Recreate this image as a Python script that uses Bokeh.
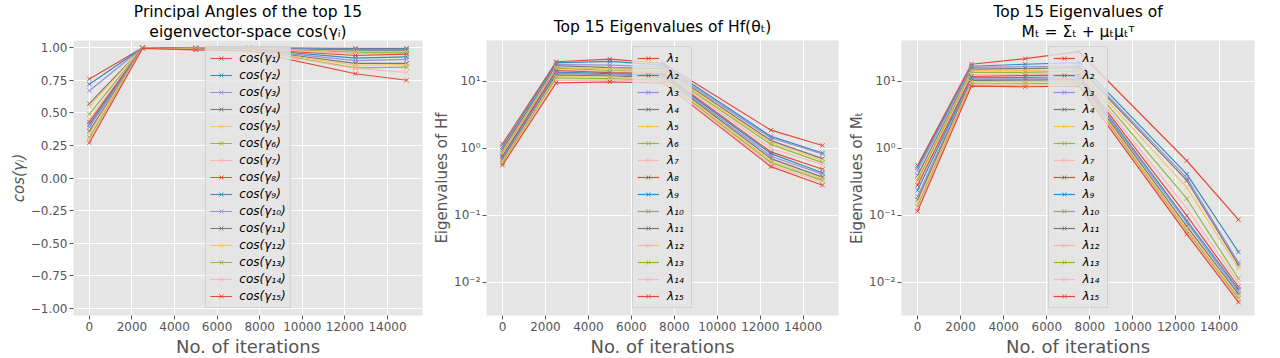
from bokeh.plotting import figure
from bokeh.layouts import row, Spacer
from bokeh.models import (Range1d, FixedTicker, CustomJSTickFormatter,
                          PrintfTickFormatter, Title)
from bokeh.embed import file_html
from bokeh.resources import INLINE

# ---------------- data ----------------
iterations = [0, 2500, 5000, 7500, 12500, 14900]
x_ticks = [0, 2000, 4000, 6000, 8000, 10000, 12000, 14000]
cos_ticks = [-1.0, -0.75, -0.5, -0.25, 0.0, 0.25, 0.5, 0.75, 1.0]
log_ticks = [0.01, 0.1, 1, 10]

# cos(gamma_i), i = 1..15, at each checkpoint
cos_it0 = [0.76, 0.72, 0.67, 0.57, 0.55, 0.49, 0.45, 0.43, 0.41, 0.39, 0.36, 0.34, 0.31, 0.29, 0.27]
cos_it2500 = [1.0, 1.0, 1.0, 0.999, 0.999, 0.999, 0.998, 0.998, 0.998, 0.997, 0.997, 0.996, 0.996, 0.995, 0.995]
cos_it5000 = [0.999, 0.999, 0.998, 0.998, 0.997, 0.996, 0.995, 0.994, 0.993, 0.992, 0.99, 0.989, 0.987, 0.985, 0.983]
cos_it7500 = [0.999, 0.998, 0.997, 0.996, 0.995, 0.994, 0.992, 0.99, 0.989, 0.987, 0.985, 0.983, 0.981, 0.978, 0.975]
cos_it12500 = [0.995, 0.99, 0.985, 0.98, 0.97, 0.965, 0.955, 0.94, 0.92, 0.9, 0.88, 0.865, 0.845, 0.84, 0.8]
cos_it14900 = [0.995, 0.99, 0.985, 0.98, 0.97, 0.96, 0.955, 0.95, 0.93, 0.91, 0.88, 0.87, 0.85, 0.81, 0.75]

# top 15 eigenvalues of H_f(theta_t)
hf_it0 = [1.16, 1.05, 0.98, 0.93, 0.88, 0.84, 0.8, 0.76, 0.73, 0.7, 0.67, 0.64, 0.61, 0.58, 0.56]
hf_it2500 = [19.6, 18.8, 17.7, 17.1, 16.2, 15.7, 15.0, 14.5, 13.7, 13.3, 12.5, 11.8, 11.2, 10.3, 9.5]
hf_it5000 = [21.4, 19.8, 17.5, 16.0, 15.2, 14.5, 14.0, 13.5, 13.0, 12.5, 12.0, 11.6, 11.0, 10.5, 9.8]
hf_it7500 = [18.5, 17.5, 16.5, 15.5, 14.8, 14.0, 13.5, 13.0, 12.4, 11.9, 11.4, 10.9, 10.4, 9.9, 9.4]
hf_it12500 = [1.86, 1.5, 1.42, 1.3, 1.22, 1.14, 1.0, 0.88, 0.83, 0.76, 0.7, 0.65, 0.61, 0.57, 0.53]
hf_it14900 = [1.1, 0.85, 0.82, 0.7, 0.66, 0.61, 0.57, 0.485, 0.43, 0.41, 0.37, 0.35, 0.33, 0.31, 0.28]

# top 15 eigenvalues of M_t = Sigma_t + mu_t mu_t^T
mt_it0 = [0.55, 0.51, 0.46, 0.39, 0.35, 0.33, 0.29, 0.28, 0.235, 0.19, 0.17, 0.15, 0.135, 0.125, 0.114]
mt_it2500 = [18.0, 16.8, 16.2, 15.2, 14.4, 13.6, 12.6, 11.8, 11.3, 10.9, 10.3, 9.8, 9.2, 8.8, 8.5]
mt_it5000 = [21.8, 18.0, 16.5, 15.5, 14.4, 13.6, 12.8, 12.2, 11.4, 10.8, 10.4, 9.8, 9.2, 8.7, 8.3]
mt_it7500 = [27.7, 19.0, 17.0, 16.0, 15.0, 14.2, 13.5, 12.6, 11.8, 11.2, 10.6, 10.0, 9.4, 8.9, 8.5]
mt_it12500 = [0.65, 0.41, 0.36, 0.33, 0.26, 0.176, 0.126, 0.098, 0.083, 0.077, 0.068, 0.063, 0.058, 0.055, 0.052]
mt_it14900 = [0.0855, 0.0281, 0.0195, 0.018, 0.0161, 0.0113, 0.0098, 0.0085, 0.0078, 0.0072, 0.0066, 0.006, 0.0057, 0.0053, 0.005]

sub = ["\u2081", "\u2082", "\u2083", "\u2084", "\u2085", "\u2086", "\u2087", "\u2088", "\u2089",
       "\u2081\u2080", "\u2081\u2081", "\u2081\u2082", "\u2081\u2083", "\u2081\u2084", "\u2081\u2085"]
cos_labels = ["cos(\u03b3" + s + ")" for s in sub]
lam_labels = ["\u03bb" + s for s in sub]

colors = ["#E24A33", "#348ABD", "#988ED5", "#777777", "#FBC15E", "#8EBA42", "#FFB5B8"]

FONT = "DejaVu Sans"
H = 356
X_LO, X_HI = -745, 15645


def make_fig(width, bl, br, snaps, labels, ylabel, titles, log=False):
    kw = dict(y_axis_type="log") if log else {}
    p = figure(width=width, height=H, output_backend="svg", toolbar_location=None,
               title=None, min_border_left=bl, min_border_right=br,
               min_border_top=30, min_border_bottom=0, **kw)
    p.x_range = Range1d(X_LO, X_HI)
    if log:
        p.y_range = Range1d(10 ** -2.5, 10 ** 1.61)
    else:
        p.y_range = Range1d(-1.055, 1.055)
    p.background_fill_color = "#E5E5E5"
    p.border_fill_color = "white"
    p.outline_line_color = None
    for k, lab in enumerate(labels):
        ys = [snap[k] for snap in snaps]
        c = colors[k % len(colors)]
        p.line(iterations, ys, line_color=c, line_width=1.2, legend_label=lab)
        p.scatter(iterations, ys, marker="x", size=6, line_color=c, line_width=1, legend_label=lab)
    for ax in p.axis:
        ax.axis_line_color = None
        ax.major_tick_line_color = "#555555"
        ax.major_tick_out = 4
        ax.major_tick_in = 0
        ax.minor_tick_line_color = None
        ax.major_label_text_color = "#555555"
        ax.major_label_text_font = FONT
        ax.major_label_text_font_size = "12px"
        ax.major_label_standoff = 2
        ax.axis_label_text_color = "#555555"
        ax.axis_label_text_font = FONT
        ax.axis_label_text_font_style = "normal"
    p.xaxis.ticker = FixedTicker(ticks=x_ticks)
    p.xaxis.formatter = PrintfTickFormatter(format="%d")
    # x-axis title as a compact title below the axis
    p.add_layout(Title(text="No. of iterations", align="center", text_font=FONT,
                       text_font_size="18px", text_font_style="normal",
                       text_color="#555555", standoff=0, offset=0), "below")
    p.yaxis.axis_label = ylabel
    p.yaxis.axis_label_text_font_size = "15px"
    p.yaxis.axis_label_standoff = 0
    if log:
        p.yaxis.ticker = FixedTicker(ticks=log_ticks, minor_ticks=[])
        p.yaxis.formatter = CustomJSTickFormatter(code="""
            const sup = {"-": "\u207b", "0": "\u2070", "1": "\u00b9", "2": "\u00b2", "3": "\u00b3"};
            const e = Math.round(Math.log10(tick));
            let s = "";
            for (const c of String(e)) { s += sup[c]; }
            return "10" + s;
        """)
    else:
        p.yaxis.ticker = FixedTicker(ticks=cos_ticks)
        p.yaxis.formatter = CustomJSTickFormatter(
            code="return tick.toFixed(2).replace('-', '\u2212');")
        p.yaxis.axis_label_text_font_style = "italic"
    p.grid.grid_line_color = "white"
    p.grid.grid_line_width = 1

    lg = p.legend[0]
    lg.location = "top_center"
    lg.margin = 6
    lg.padding = 4
    lg.spacing = 3
    lg.label_height = 14
    lg.glyph_height = 14
    lg.glyph_width = 22
    lg.label_standoff = 8
    lg.label_text_font = FONT
    lg.label_text_font_size = "12px"
    lg.label_text_font_style = "italic"
    lg.label_text_color = "black"
    lg.background_fill_color = "#E5E5E5"
    lg.background_fill_alpha = 0.8
    lg.border_line_color = "#CCCCCC"
    lg.border_line_alpha = 0.8

    single = len(titles) == 1
    for i, t in enumerate(reversed(titles)):
        p.add_layout(Title(text=t, align="center", text_font=FONT, text_font_size="15.5px",
                           text_font_style="normal", text_color="black",
                           standoff=10 if single else 0, offset=0), "above")
    return p


p1 = make_fig(424, 63, 8,
              [cos_it0, cos_it2500, cos_it5000, cos_it7500, cos_it12500, cos_it14900],
              cos_labels, "cos(\u03b3\u1d62)",
              ["Principal Angles of the top 15", "eigenvector-space cos(\u03b3\u1d62)"])
p2 = make_fig(415, 54, 7,
              [hf_it0, hf_it2500, hf_it5000, hf_it7500, hf_it12500, hf_it14900],
              lam_labels, "Eigenvalues of Hf",
              ["Top 15 Eigenvalues of Hf(\u03b8\u209c)"], log=True)
p3 = make_fig(419, 54, 10,
              [mt_it0, mt_it2500, mt_it5000, mt_it7500, mt_it12500, mt_it14900],
              lam_labels, "Eigenvalues of M\u209c",
              ["Top 15 Eigenvalues of",
               "M\u209c = \u03a3\u209c + \u03bc\u209c\u03bc\u209c\u1d40"], log=True)

layout = row(Spacer(width=6, height=H), p1, p2, p3)
open("out.html", "w").write(file_html(layout, INLINE))
